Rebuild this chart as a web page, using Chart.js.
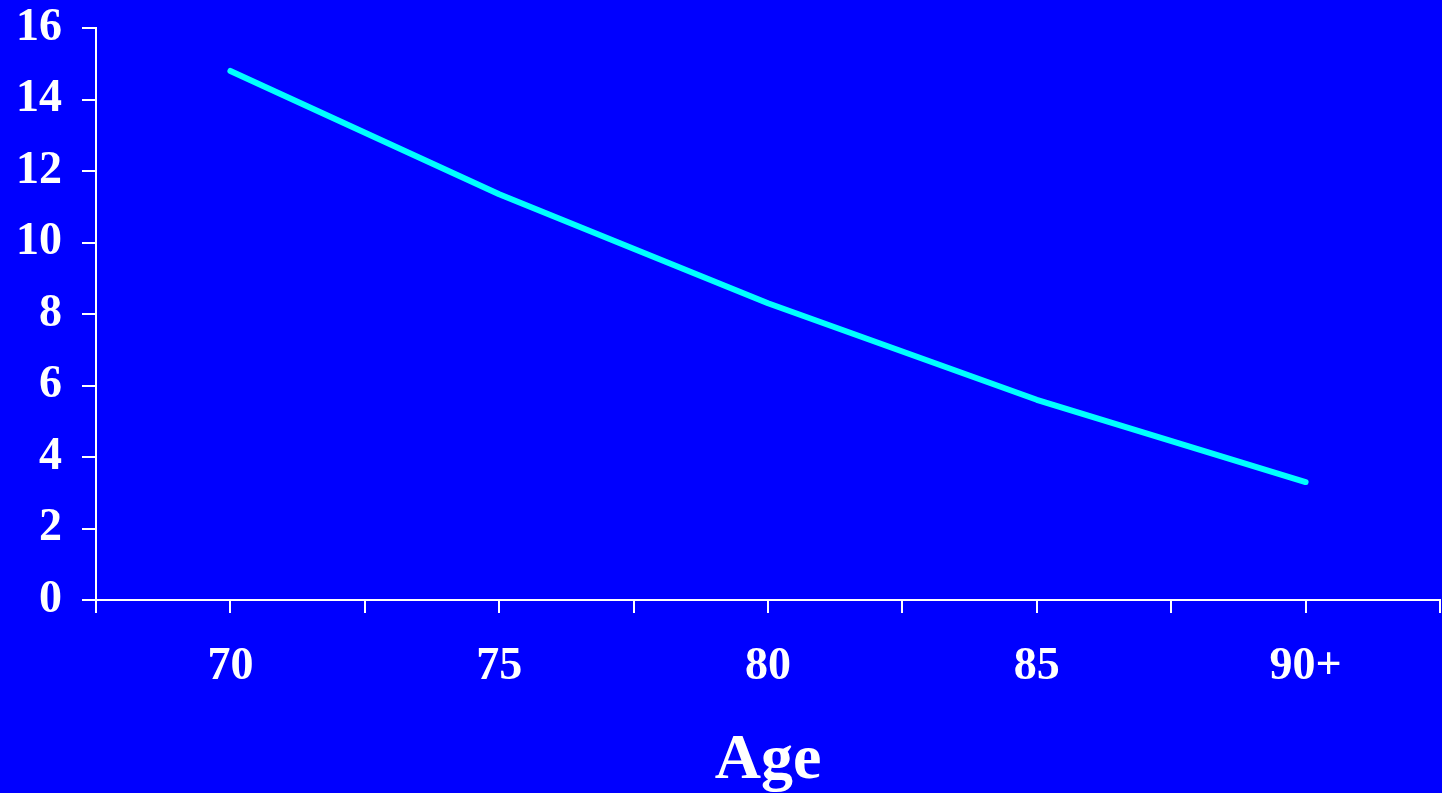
<!DOCTYPE html>
<html>
<head>
<meta charset="utf-8">
<script src="https://cdn.jsdelivr.net/npm/chart.js@4"></script>
<style>
  html, body { margin: 0; padding: 0; background: #0000ff; overflow: hidden; }
  #wrap { position: relative; width: 1442px; height: 800px; }
</style>
</head>
<body>
<div id="wrap"><canvas id="chart"></canvas></div>
<script>
// age groups and rate per group
const ageGroups = ['70', '75', '80', '85', '90+'];
const rates = [14.8, 11.35, 8.3, 5.6, 3.3];
const yTicks = [0, 2, 4, 6, 8, 10, 12, 14, 16];

// categories sit on every other x tick (1, 3, 5, ...), with a half-slot either side
const slotOf = (i) => i * 2 + 1;
const points = rates.map((v, i) => ({ x: slotOf(i), y: v }));

const font = (size) => ({ family: '"Liberation Serif", "Times New Roman", serif', size, weight: 'bold' });

new Chart(document.getElementById('chart'), {
    type: 'line',
    data: {
        datasets: [{
            data: points,
            borderColor: '#00ffff',
            borderWidth: 6,
            borderCapStyle: 'round',
            borderJoinStyle: 'round',
            pointRadius: 0,
            tension: 0,
        }],
    },
    options: {
        responsive: true,
        maintainAspectRatio: false,
        animation: false,
        layout: { padding: { top: 28, right: 2, left: 0, bottom: 0 } },
        plugins: {
            legend: { display: false },
            tooltip: { enabled: false },
        },
        scales: {
            x: {
                type: 'linear',
                min: 0,
                max: ageGroups.length * 2,
                afterBuildTicks: (axis) => {
                    axis.ticks = [];
                    for (let v = 0; v <= ageGroups.length * 2; v++) axis.ticks.push({ value: v });
                },
                // fixed box sizes so the plot area lines up with the original
                afterFit: (axis) => {
                    axis.height = 200;
                    axis.paddingLeft = 0;
                    axis.paddingRight = 0;
                },
                ticks: {
                    color: '#ffffff',
                    font: font(46),
                    padding: 27,
                    maxRotation: 0,
                    autoSkip: false,
                    callback: (v) => (v % 2 === 1 ? ageGroups[(v - 1) / 2] : ''),
                },
                grid: { display: true, drawOnChartArea: false, drawTicks: true, tickLength: 13, color: '#ffffff', lineWidth: 2 },
                border: { display: true, color: '#ffffff', width: 2 },
                title: { display: true, text: 'Age', color: '#ffffff', font: font(64), padding: { top: 20, bottom: 0 } },
            },
            y: {
                min: 0,
                max: 16,
                afterBuildTicks: (axis) => { axis.ticks = yTicks.map((v) => ({ value: v })); },
                afterFit: (axis) => {
                    axis.width = 96;
                    axis.paddingTop = 0;
                    axis.paddingBottom = 0;
                },
                ticks: { color: '#ffffff', font: font(46), padding: 20 },
                grid: { display: true, drawOnChartArea: false, drawTicks: true, tickLength: 14, color: '#ffffff', lineWidth: 2 },
                border: { display: true, color: '#ffffff', width: 2 },
            },
        },
    },
});
</script>
</body>
</html>
